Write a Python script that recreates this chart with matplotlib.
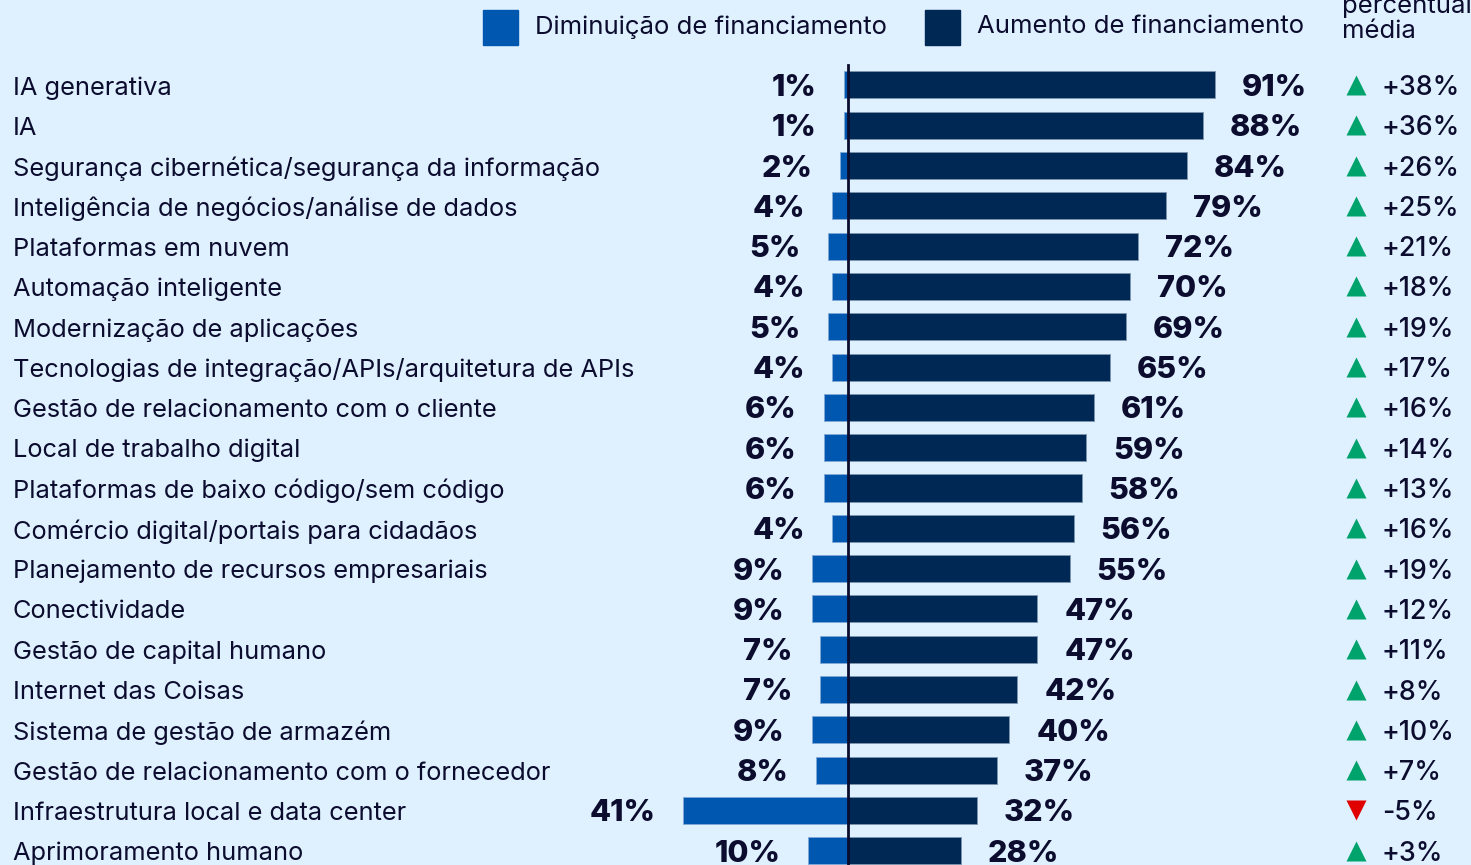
import numpy as np
import matplotlib.pyplot as plt
from matplotlib.patches import Rectangle

# data
categorias = [
    'IA generativa',
    'IA',
    'Segurança cibernética/segurança da informação',
    'Inteligência de negócios/análise de dados',
    'Plataformas em nuvem',
    'Automação inteligente',
    'Modernização de aplicações',
    'Tecnologias de integração/APIs/arquitetura de APIs',
    'Gestão de relacionamento com o cliente',
    'Local de trabalho digital',
    'Plataformas de baixo código/sem código',
    'Comércio digital/portais para cidadãos',
    'Planejamento de recursos empresariais',
    'Conectividade',
    'Gestão de capital humano',
    'Internet das Coisas',
    'Sistema de gestão de armazém',
    'Gestão de relacionamento com o fornecedor',
    'Infraestrutura local e data center',
    'Aprimoramento humano',
]
diminuicao = [1, 1, 2, 4, 5, 4, 5, 4, 6, 6, 6, 4, 9, 9, 7, 7, 9, 8, 41, 10]
aumento = [91, 88, 84, 79, 72, 70, 69, 65, 61, 59, 58, 56, 55, 47, 47, 42, 40, 37, 32, 28]
variacao = [38, 36, 26, 25, 21, 18, 19, 17, 16, 14, 13, 16, 19, 12, 11, 8, 10, 7, -5, 3]

BG = '#dff0fe'
AZUL = '#0057b0'
MARINHO = '#002855'
TEXTO = '#0b0c2e'
VERDE = '#00a36c'
VERMELHO = '#e00000'

plt.rcParams['font.family'] = ['Inter', 'DejaVu Sans']

W, H = 1471, 865
fig = plt.figure(figsize=(W / 100, H / 100), dpi=100, facecolor=BG)
ax = fig.add_axes([0, 0, 1, 1])
ax.set_facecolor(BG)

# pixel geometry of the reference: zero at x=848, ~4.03 px per percent, rows every 40.3 px
x0, ppu = 848, 4.03
y0, pitch = 85, 40.3
ax.set_xlim(-x0 / ppu, (W - x0) / ppu)
ax.set_ylim((H - y0) / pitch, -y0 / pitch)
ax.axis('off')

def px(x):
    return (x - x0) / ppu

def py(y):
    return (y - y0) / pitch

y = np.arange(len(categorias))
bh = 27 / pitch
ax.barh(y, [-d for d in diminuicao], height=bh, color=AZUL, edgecolor='#7fa8d8', linewidth=0.6)
ax.barh(y, aumento, height=bh, color=MARINHO, edgecolor='#7f95b0', linewidth=0.6)
ax.plot([0, 0], [py(65), py(H + 5)], color=TEXTO, lw=2, zorder=5)

gap = 27 / ppu
dy = 3 / pitch  # text sits slightly below the bar centre
for i in range(len(categorias)):
    ax.text(px(13), i + dy, categorias[i], ha='left', va='center', fontsize=18.3, color=TEXTO)
    ax.text(-diminuicao[i] - gap, i + dy, f'{diminuicao[i]}%', ha='right', va='center',
            fontsize=22, fontweight='heavy', color=TEXTO)
    ax.text(aumento[i] + gap, i + dy, f'{aumento[i]}%', ha='left', va='center',
            fontsize=22, fontweight='heavy', color=TEXTO)
    v = variacao[i]
    ax.plot(px(1356), i, marker='^' if v >= 0 else 'v', ms=15,
            color=VERDE if v >= 0 else VERMELHO, mec='none')
    ax.text(px(1382), i + dy, f'{v:+d}%', ha='left', va='center', fontsize=19.3,
            fontweight='medium', color=TEXTO)

# legend
ax.add_patch(Rectangle((px(483), py(10)), 35 / ppu, 35 / pitch, color=AZUL))
ax.text(px(535), py(27), 'Diminuição de financiamento', ha='left', va='center',
        fontsize=18.5, color=TEXTO)
ax.add_patch(Rectangle((px(925), py(10)), 35 / ppu, 35 / pitch, color=MARINHO))
ax.text(px(977), py(27), 'Aumento de financiamento', ha='left', va='center',
        fontsize=18.5, color=TEXTO)

# column header (clipped at the top in the reference)
ax.text(px(1342), py(43), 'Mudança\npercentual\nmédia', ha='left', va='bottom',
        fontsize=18.5, color=TEXTO, linespacing=1.1)

fig.savefig('out.png', dpi=100, facecolor=BG)
